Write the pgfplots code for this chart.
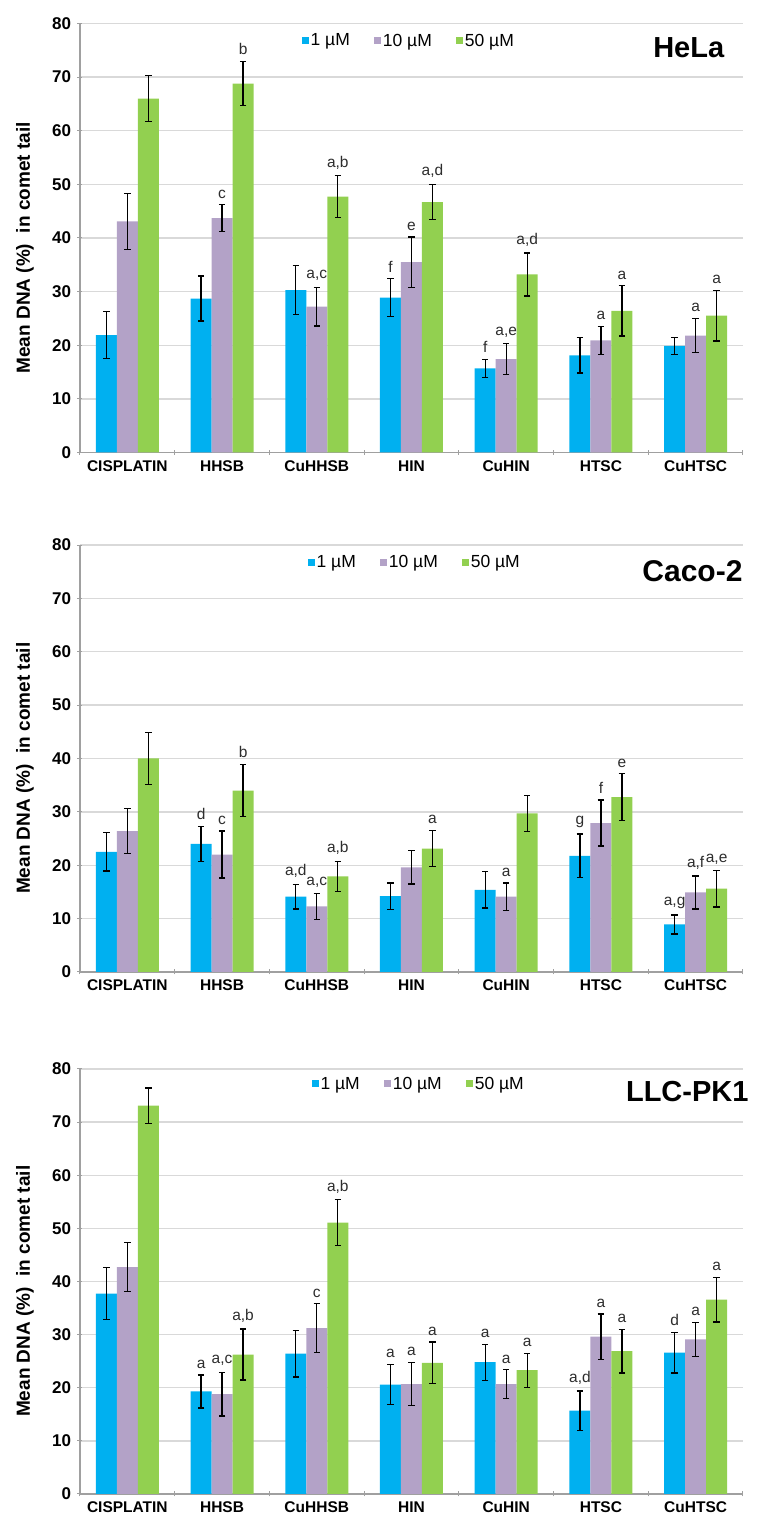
\documentclass[border=0pt]{standalone}
\usepackage{fontspec}
\setmainfont{Liberation Sans}
\setsansfont{Liberation Sans}
\usepackage{pgfplots}
\pgfplotsset{compat=1.18}
\usepackage{pgfplotstable}

\definecolor{cblue}{RGB}{0,176,240}
\definecolor{cpurple}{RGB}{179,162,199}
\definecolor{cgreen}{RGB}{146,208,80}
\definecolor{gridgray}{RGB}{217,217,217}
\definecolor{axgray}{RGB}{160,160,160}
\definecolor{lettergray}{RGB}{45,45,45}

\pgfplotstableread{
x y1 e1 l1 y2 e2 l2 y3 e3 l3
0 21.9 4.4 {} 43.1 5.2 {} 66.0 4.3 {}
1 28.7 4.2 {} 43.7 2.5 c 68.8 4.1 b
2 30.3 4.6 {} 27.2 3.6 a,c 47.7 3.9 a,b
3 28.9 3.5 f 35.5 4.7 e 46.7 3.3 a,d
4 15.7 1.7 f 17.4 2.9 a,e 33.2 4.0 a,d
5 18.1 3.3 {} 20.9 2.6 a 26.4 4.7 a
6 19.9 1.6 {} 21.8 3.2 a 25.5 4.7 a
}\hela

\pgfplotstableread{
x y1 e1 l1 y2 e2 l2 y3 e3 l3
0 22.5 3.6 {} 26.4 4.2 {} 40.0 4.9 {}
1 24.0 3.3 d 22.0 4.4 c 34.0 4.9 b
2 14.1 2.3 a,d 12.3 2.4 a,c 17.9 2.8 a,b
3 14.2 2.5 {} 19.6 3.1 {} 23.1 3.4 a
4 15.4 3.4 {} 14.1 2.6 a 29.7 3.4 {}
5 21.75 4.1 g 27.9 4.3 f 32.75 4.4 e
6 8.9 1.8 a,g 14.9 3.1 a,f 15.6 3.4 a,e
}\caco

\pgfplotstableread{
x y1 e1 l1 y2 e2 l2 y3 e3 l3
0 37.7 4.9 {} 42.7 4.6 {} 73.1 3.3 {}
1 19.3 3.1 a 18.8 4.1 a,c 26.25 4.8 a,b
2 26.4 4.4 {} 31.2 4.6 c 51.1 4.3 a,b
3 20.6 3.8 a 20.7 4.1 a 24.7 3.9 a
4 24.8 3.4 a 20.7 2.7 a 23.3 3.2 a
5 15.7 3.7 a,d 29.6 4.3 a 26.9 4.1 a
6 26.6 3.8 d 29.1 3.2 a 36.6 4.2 a
}\llc

\pgfplotsset{
  panel/.style={
    scale only axis, width=663pt,
    ymin=0, ymax=80, ytick={0,10,...,80},
    xmin=-0.5, xmax=6.5,
    xtick={0,...,6},
    xticklabels={CISPLATIN,HHSB,CuHHSB,HIN,CuHIN,HTSC,CuHTSC},
    minor xtick={-0.5,0.5,...,6.5},
    major x tick style={draw=none},
    tick align=outside,
    major tick length=5pt, minor tick length=5pt,
    tick style={axgray, line width=1pt},
    axis lines=left,
    axis line style={-, axgray, line width=1.2pt},
    ymajorgrids,
    grid style={gridgray, line width=1.3pt},
    clip=false,
    /pgf/number format/assume math mode=true,
    yticklabel style={font=\fontsize{17}{20}\selectfont\bfseries, xshift=-3pt},
    xticklabel style={font=\fontsize{15.5}{18}\selectfont\bfseries, yshift=-2pt},
    ylabel={Mean DNA (\%)\ \ in comet tail},
    ylabel style={font=\fontsize{19}{22}\selectfont\bfseries, at={(axis description cs:-0.083,0.477)}, anchor=center},
    legend columns=3,
    legend style={draw=none, fill=none, inner sep=0pt,
      font=\fontsize{17.5}{20}\selectfont,
      /tikz/every even column/.append style={column sep=22pt},
      nodes={inner sep=2pt}},
    legend image code/.code={\fill[##1] (0pt,-3.5pt) rectangle (7pt,3.5pt);},
  },
}

% bars with error bars: table, y column, error column, colour, x offset (one bar = 0.2217)
\newcommand{\series}[5]{%
  \addplot[ybar, bar width=21pt, bar shift=0pt, fill=#4, draw=none,
    error bars/.cd, y dir=both, y explicit,
    error bar style={black, line width=1.3pt},
    error mark options={rotate=90, mark size=3.2pt, black, line width=1.3pt}]
    table[x expr=\thisrow{x}+#5, y=#2, y error=#3] {#1};}

% significance letters: table, y column, error column, label column, x offset
\newcommand{\letters}[5]{%
  \addplot[sharp plot, draw=none, mark=none, forget plot,
    point meta=explicit symbolic, nodes near coords,
    nodes near coords style={font=\fontsize{15.5}{18}\selectfont, text=lettergray, anchor=south, yshift=3pt}]
    table[x expr=\thisrow{x}+#5, y expr=\thisrow{#2}+\thisrow{#3}, meta=#4] {#1};}

\begin{document}
\begin{tikzpicture}
\useasboundingbox (0,0) rectangle (757pt,1519pt);

% HeLa
\begin{axis}[panel, height=429pt, at={(80pt,1066.5pt)}, anchor=south west,
  legend style={at={(rel axis cs:0.334,0.960)}, anchor=west}]
\series{\hela}{y1}{e1}{cblue}{-0.2217}
\series{\hela}{y2}{e2}{cpurple}{0}
\series{\hela}{y3}{e3}{cgreen}{0.2217}
\legend{1 µM,10 µM,50 µM}
\letters{\hela}{y1}{e1}{l1}{-0.2217}
\letters{\hela}{y2}{e2}{l2}{0}
\letters{\hela}{y3}{e3}{l3}{0.2217}
\node[anchor=east, font=\fontsize{29}{34}\selectfont\bfseries] at (rel axis cs:0.977,0.944) {HeLa};
\end{axis}

% Caco-2
\begin{axis}[panel, height=427pt, at={(80pt,547pt)}, anchor=south west,
  legend style={at={(rel axis cs:0.343,0.960)}, anchor=west}]
\series{\caco}{y1}{e1}{cblue}{-0.2217}
\series{\caco}{y2}{e2}{cpurple}{0}
\series{\caco}{y3}{e3}{cgreen}{0.2217}
\legend{1 µM,10 µM,50 µM}
\letters{\caco}{y1}{e1}{l1}{-0.2217}
\letters{\caco}{y2}{e2}{l2}{0}
\letters{\caco}{y3}{e3}{l3}{0.2217}
\node[anchor=east, font=\fontsize{30}{35}\selectfont\bfseries] at (rel axis cs:1.0045,0.939) {Caco-2};
\end{axis}

% LLC-PK1
\begin{axis}[panel, height=425pt, at={(80pt,25pt)}, anchor=south west,
  legend style={at={(rel axis cs:0.349,0.965)}, anchor=west}]
\series{\llc}{y1}{e1}{cblue}{-0.2217}
\series{\llc}{y2}{e2}{cpurple}{0}
\series{\llc}{y3}{e3}{cgreen}{0.2217}
\legend{1 µM,10 µM,50 µM}
\letters{\llc}{y1}{e1}{l1}{-0.2217}
\letters{\llc}{y2}{e2}{l2}{0}
\letters{\llc}{y3}{e3}{l3}{0.2217}
\node[anchor=east, font=\fontsize{29}{34}\selectfont\bfseries] at (rel axis cs:1.0136,0.948) {LLC-PK1};
\end{axis}
\end{tikzpicture}
\end{document}
